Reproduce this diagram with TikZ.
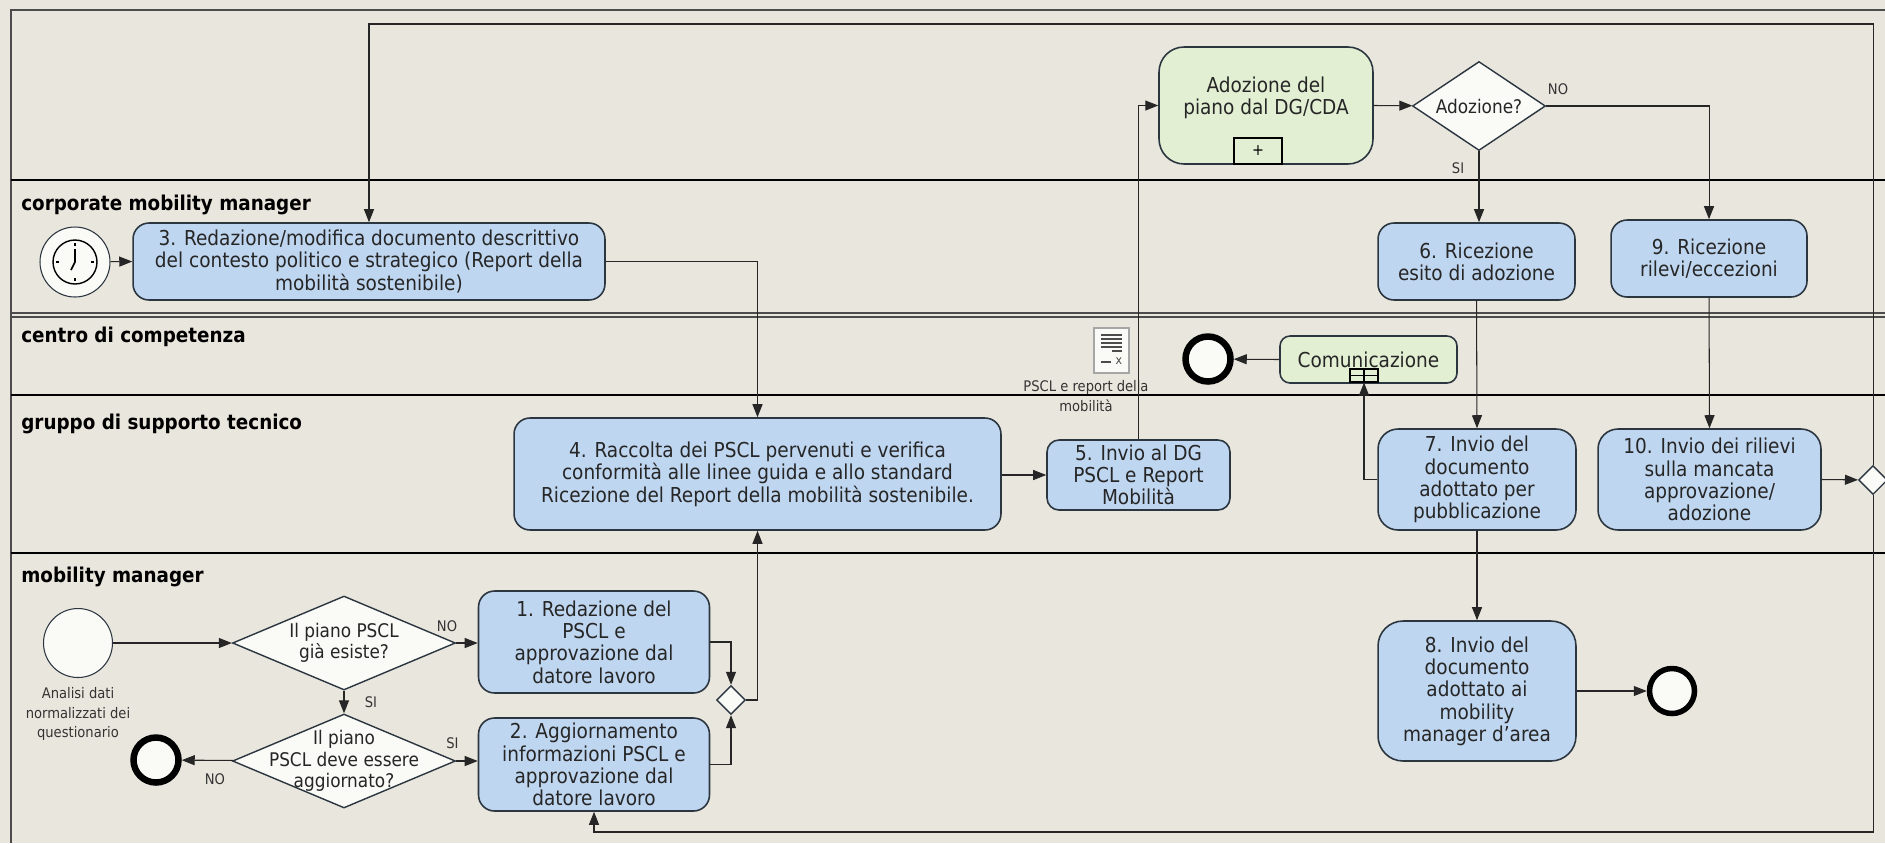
\documentclass[tikz,border=0pt]{standalone}
\usepackage{fontspec}
\setmainfont{DejaVu Sans Condensed}
\usetikzlibrary{arrows.meta,shapes.geometric}
\definecolor{lanebg}{HTML}{E9E6DD}
\definecolor{taskblue}{HTML}{BFD6F0}
\definecolor{subgreen}{HTML}{E3EFD3}
\definecolor{edgedark}{HTML}{2B3640}
\definecolor{gatewhite}{HTML}{FAFAF6}
\tikzset{
    task/.style={draw=edgedark, line width=0.9pt, fill=taskblue, rounded corners=0.32cm, align=center, inner sep=0pt, text=black!85, font=\fontsize{11.7}{12.7}\selectfont},
    subtask/.style={task, fill=subgreen},
    gate/.style={diamond, draw=edgedark, line width=0.8pt, fill=gatewhite, inner sep=0pt},
    gatetext/.style={align=center, inner sep=0pt, text=black!85, font=\fontsize{10.7}{12.2}\selectfont},
    startev/.style={circle, draw=edgedark, line width=0.6pt, fill=gatewhite, inner sep=0pt, minimum size=1.38cm},
    endev/.style={circle, draw=black, line width=0.13cm, fill=gatewhite, inner sep=0pt, minimum size=0.9cm},
    lanename/.style={anchor=west, inner sep=0pt, font=\fontsize{11.6}{12}\selectfont\bfseries},
    note/.style={align=center, inner sep=0pt, text=black!80, font=\fontsize{8.3}{11}\selectfont},
    flow/.style={draw=black!85, line width=0.6pt, -{Triangle[length=0.26cm,width=0.2cm]}},
    laneline/.style={draw=black, line width=1.2pt},
}
\begin{document}
\begin{tikzpicture}[x=0.02cm, y=-0.02cm]
    \useasboundingbox (0,0) rectangle (1885,843);
    \clip (0,0) rectangle (1885,843);
    \fill[lanebg] (0,0) rectangle (1885,843);

    \draw[black!70, line width=1.3pt] (11,843) -- (11,10) -- (1885,10);
    \draw[laneline] (11,180) -- (1885,180);
    \draw[black!70, line width=0.7pt] (11,313) -- (1885,313);
    \draw[black!70, line width=0.7pt] (11,317) -- (1885,317);
    \draw[laneline] (11,395) -- (1885,395);
    \draw[laneline] (11,553) -- (1885,553);

    \node[lanename] (lanecorp) at (21,205) {corporate mobility manager};
    \node[lanename] (lanecentro) at (21,337) {centro di competenza};
    \node[lanename] (lanegruppo) at (21,424) {gruppo di supporto tecnico};
    \node[lanename] (lanemm) at (21,577) {mobility manager};

    \node[startev] (start) at (78,643) {};
    \node[note] (startnote) at (78,714) {Analisi dati\\normalizzati dei\\questionario};
    \node[startev, minimum size=1.4cm] (timer) at (75,262) {};
    \node[circle, draw=black, line width=0.8pt, inner sep=0pt, minimum size=0.88cm] (timerface) at (timer) {};
    \foreach \a in {0,90,180,270}
        \draw[black, line width=0.8pt] (timer.center) ++(\a:16) -- ++(\a:3);
    \draw[black, line width=0.9pt] (timer.center) ++(0,-13) -- (timer.center) -- ++(-4,8);

    \node[gate, minimum width=4.46cm, minimum height=1.88cm, label={[gatetext]center:{Il piano PSCL\\già esiste?}}] (gwexists) at (344,643) {};
    \node[gate, minimum width=4.46cm, minimum height=1.88cm, label={[gatetext]center:{Il piano\\PSCL deve essere\\aggiornato?}}] (gwupdate) at (344,761) {};
    \node[gate, minimum width=2.66cm, minimum height=1.78cm, label={[gatetext]center:{Adozione?}}] (gwadopt) at (1479,106) {};
    \node[gate, minimum size=0.58cm] (gwplan) at (731,700) {};
    \node[gate, minimum size=0.58cm] (gwright) at (1873,480) {};

    \node[endev] (endleft) at (156,760) {};
    \node[endev] (endcom) at (1208,359) {};
    \node[endev, line width=0.11cm] (endright) at (1672,691) {};

    \node[task, minimum width=4.62cm, minimum height=2.04cm] (task1) at (594,642) {1. Redazione del\\PSCL e\\approvazione dal\\datore lavoro};
    \node[task, minimum width=4.62cm, minimum height=1.86cm] (task2) at (594,764.5) {2. Aggiornamento\\informazioni PSCL e\\approvazione dal\\datore lavoro};
    \node[task, minimum width=9.44cm, minimum height=1.54cm] (task3) at (369,261.5) {3. Redazione/modifica documento descrittivo\\del contesto politico e strategico (Report della\\mobilità sostenibile)};
    \node[task, minimum width=9.74cm, minimum height=2.24cm] (task4) at (757.5,474) {4. Raccolta dei PSCL pervenuti e verifica\\conformità alle linee guida e allo standard\\Ricezione del Report della mobilità sostenibile.};
    \node[task, minimum width=3.66cm, minimum height=1.4cm, rounded corners=0.24cm] (task5) at (1138.5,475) {5. Invio al DG\\PSCL e Report\\Mobilità};
    \node[task, minimum width=3.94cm, minimum height=1.54cm] (task6) at (1476.5,261.5) {6. Ricezione\\esito di adozione};
    \node[task, minimum width=3.96cm, minimum height=2.02cm, rounded corners=0.4cm] (task7) at (1477,479.5) {7. Invio del\\documento\\adottato per\\pubblicazione};
    \node[task, minimum width=3.96cm, minimum height=2.8cm, rounded corners=0.5cm] (task8) at (1477,691) {8. Invio del\\documento\\adottato ai\\mobility\\manager d’area};
    \node[task, minimum width=3.92cm, minimum height=1.54cm] (task9) at (1709,258.5) {9. Ricezione\\rilevi/eccezioni};
    \node[task, minimum width=4.46cm, minimum height=2.02cm, rounded corners=0.4cm] (task10) at (1709.5,479.5) {10. Invio dei rilievi\\sulla mancata\\approvazione/\\adozione};

    \node[subtask, minimum width=4.28cm, minimum height=2.34cm, rounded corners=0.5cm] (adoption) at (1266,105.5) {};
    \node[inner sep=0pt, align=center, font=\fontsize{11.7}{12.7}\selectfont, text=black!85] (adoptiontext) at (1266,98) {Adozione del\\piano dal DG/CDA};
    \node[draw=black, line width=0.9pt, fill=subgreen, inner sep=0pt, minimum width=0.96cm, minimum height=0.52cm, font=\small] (subadopt) at (1258,151) {+};
    \node[subtask, minimum width=3.54cm, minimum height=0.94cm, rounded corners=0.2cm] (comm) at (1368.5,359.5) {Comunicazione};
    \node[draw=black, line width=0.9pt, fill=subgreen, inner sep=0pt, minimum width=0.56cm, minimum height=0.25cm] (subcomm) at (1364,375.5) {};
    \draw[black, line width=0.8pt] (subcomm.west) -- (subcomm.east) (subcomm.north) -- (subcomm.south);

    \node[draw=black!35, fill=gatewhite, line width=0.7pt, inner sep=0pt, minimum width=0.7cm, minimum height=0.9cm] (docicon) at (1111.5,350.5) {};
    \draw[black!70, line width=0.7pt] (1101,335) -- (1122,335) (1101,339) -- (1122,339) (1101,343) -- (1122,343) (1101,347) -- (1122,347) (1112,351) -- (1122,351) (1101,362) -- (1111,362);
    \node[inner sep=0pt, font=\fontsize{7}{8}\selectfont, text=black!70] (docx) at (1119,361) {x};
    \node[note] (docnote) at (1086,396) {PSCL e report della\\mobilità};

    \draw[flow] (start) -- (gwexists);
    \draw[flow] (gwexists) -- (task1.west |- gwexists);
    \draw[flow] (gwexists) -- (gwupdate);
    \draw[flow] (gwupdate) -- (task2.west |- gwupdate);
    \draw[flow] (gwupdate) -- (endleft);
    \draw[flow] (task1.east) -| (gwplan.north);
    \draw[flow] (task2.east) -| (gwplan.south);
    \draw[flow] (gwplan.east) -| (task4.south);
    \draw[flow] (timer) -- (task3.west);
    \draw[flow] (task3.east) -| (task4.north);
    \draw[flow] (task4.east |- task5) -- (task5.west);
    \draw[flow] (task5.north) |- (adoption.west);
    \draw[flow] (adoption.east) -- (gwadopt);
    \draw[flow] (gwadopt.south) -- (task6.north -| gwadopt.south);
    \draw[flow] (gwadopt.east) -| (task9.north);
    \draw[flow] (task6.south) -- (task7.north);
    \draw[flow] (task9.south) -- (task10.north);
    \draw[flow] (task7.south) -- (task8.north);
    \draw[flow] (task7.west) -| (subcomm.south);
    \draw[flow] (comm.west) -- (endcom);
    \draw[flow] (task8.east) -- (endright);
    \draw[flow] (task10.east) -- (gwright);

    \coordinate (topright) at (1873,24);
    \coordinate (botright) at (1873,832);
    \draw[flow] (gwright.north) -- (topright) -| (task3.north);
    \draw[flow] (gwright.south) -- (botright) -| (task2.south);

    \node[note] (noadopt) at (1558,89) {NO};
    \node[note] (siadopt) at (1458,168) {SI};
    \node[note] (noexists) at (447,626) {NO};
    \node[note] (siexists) at (371,702) {SI};
    \node[note] (siupdate) at (452.5,743) {SI};
    \node[note] (noupdate) at (215,779) {NO};
\end{tikzpicture}
\end{document}
